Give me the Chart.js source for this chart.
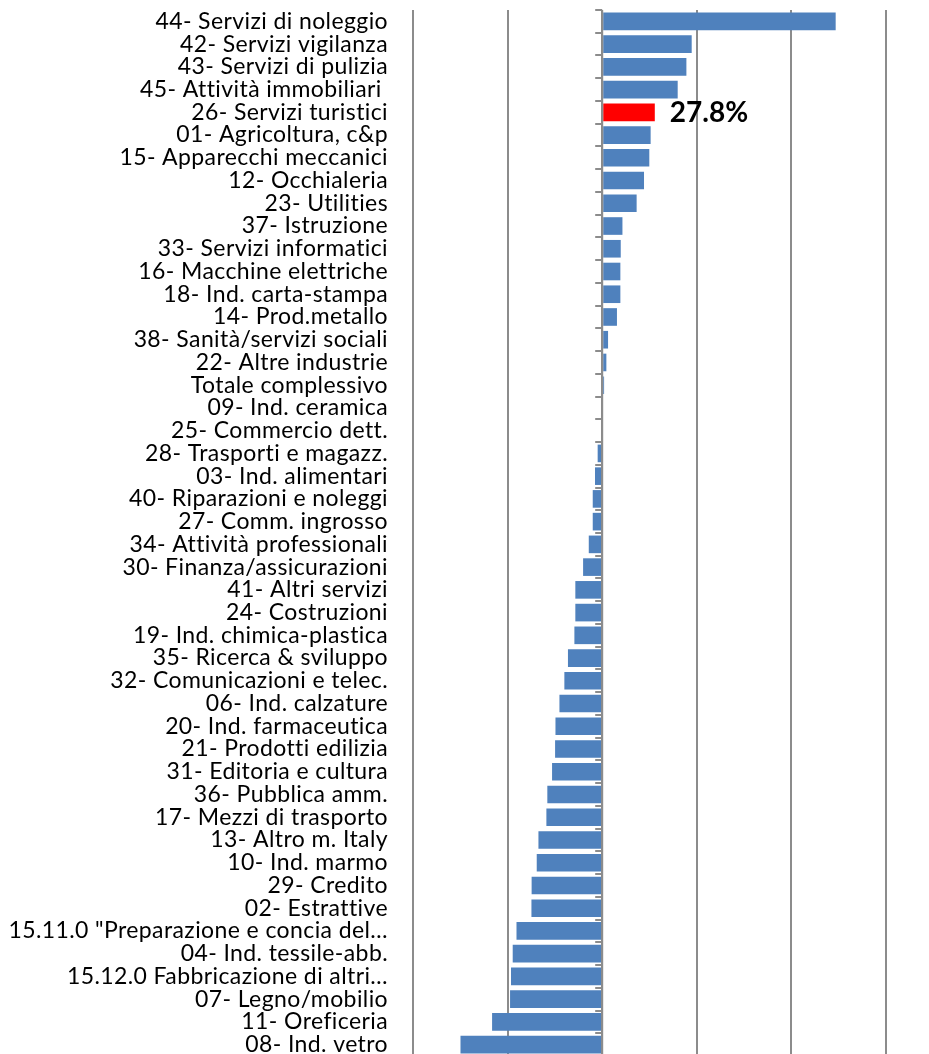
<!DOCTYPE html>
<html>
<head>
<meta charset="utf-8">
<script src="https://cdn.jsdelivr.net/npm/chart.js@4"></script>
<style>
  html, body { margin: 0; padding: 0; background: #fff; overflow: hidden; }
  #wrap { position: relative; width: 929px; height: 1058px; }
</style>
</head>
<body>
<div id="wrap"><canvas id="barChart"></canvas></div>
<script>
const ctx = document.getElementById("barChart").getContext("2d");

const sectors = [
  "44- Servizi di noleggio",
  "42- Servizi vigilanza",
  "43- Servizi di pulizia",
  "45- Attività immobiliari ",
  "26- Servizi turistici",
  "01- Agricoltura, c&p",
  "15- Apparecchi meccanici",
  "12- Occhialeria",
  "23- Utilities",
  "37- Istruzione",
  "33- Servizi informatici",
  "16- Macchine elettriche",
  "18- Ind. carta-stampa",
  "14- Prod.metallo",
  "38- Sanità/servizi sociali",
  "22- Altre industrie",
  "Totale complessivo",
  "09- Ind. ceramica",
  "25- Commercio dett.",
  "28- Trasporti e magazz.",
  "03- Ind. alimentari",
  "40- Riparazioni e noleggi",
  "27- Comm. ingrosso",
  "34- Attività professionali",
  "30- Finanza/assicurazioni",
  "41- Altri servizi",
  "24- Costruzioni",
  "19- Ind. chimica-plastica",
  "35- Ricerca & sviluppo",
  "32- Comunicazioni e telec.",
  "06- Ind. calzature",
  "20- Ind. farmaceutica",
  "21- Prodotti edilizia",
  "31- Editoria e cultura",
  "36- Pubblica amm.",
  "17- Mezzi di trasporto",
  "13- Altro m. Italy",
  "10- Ind. marmo",
  "29- Credito",
  "02- Estrattive",
  "15.11.0 \"Preparazione e concia del…",
  "04- Ind. tessile-abb.",
  "15.12.0 Fabbricazione di altri…",
  "07- Legno/mobilio",
  "11- Oreficeria",
  "08- Ind. vetro",
];

// variazione %
const changes = [
  123.4, 47.3, 44.5, 39.9, 27.8, 25.6, 24.9, 22.1, 18.2, 10.7,
  9.8, 9.6, 9.6, 7.8, 3.1, 2.2, 1.0, 0, 0, -2.4,
  -3.8, -5.0, -5.0, -7.1, -10.1, -14.2, -14.2, -14.7, -18.1, -20.0,
  -22.6, -24.7, -24.9, -26.5, -29.0, -29.5, -33.7, -34.6, -37.3, -37.4,
  -45.3, -47.3, -48.2, -48.7, -58.2, -74.9,
];

const highlightIndex = 4; // 26- Servizi turistici

const BAR_BLUE = "#4f81bd";
const BAR_RED = "#ff0000";
const GRID_GRAY = "#8c8c8c";
const FONT = "Lato, 'Liberation Sans', sans-serif";

const barColors = changes.map((v, i) => (i === highlightIndex ? BAR_RED : BAR_BLUE));

// a bit of tracking, closer to the original Calibri labels (also drops ligatures)
const textSpacing = {
  id: "textSpacing",
  beforeDraw(chart) {
    chart.ctx.letterSpacing = "0.4px";
  },
};

// small tick marks on the zero axis, between categories
const zeroAxisTicks = {
  id: "zeroAxisTicks",
  afterDatasetsDraw(chart) {
    const { ctx, scales: { x, y } } = chart;
    const x0 = x.getPixelForValue(0);
    const band = (y.bottom - y.top) / sectors.length;
    ctx.save();
    ctx.strokeStyle = GRID_GRAY;
    ctx.lineWidth = 2;
    ctx.beginPath();
    ctx.moveTo(x0, y.top);
    ctx.lineTo(x0, y.bottom);
    for (let i = 0; i <= sectors.length; i++) {
      const yy = Math.round(y.top + i * band);
      ctx.moveTo(x0 - 7, yy);
      ctx.lineTo(x0, yy);
    }
    ctx.stroke();
    ctx.restore();
  },
};

// value label for the highlighted bar
const highlightLabel = {
  id: "highlightLabel",
  afterDatasetsDraw(chart) {
    const bar = chart.getDatasetMeta(0).data[highlightIndex];
    const { ctx } = chart;
    ctx.save();
    ctx.letterSpacing = "0px";
    ctx.font = "bold 28px " + FONT;
    ctx.fillStyle = "#000";
    ctx.textAlign = "left";
    ctx.textBaseline = "middle";
    ctx.fillText(changes[highlightIndex].toFixed(1) + "%", bar.x + 15, bar.y + 1);
    ctx.restore();
  },
};

const config = {
  type: "bar",
  data: {
    labels: sectors,
    datasets: [
      {
        data: changes,
        backgroundColor: barColors,
        borderWidth: 0,
        categoryPercentage: 1,
        barPercentage: 0.775,
      },
    ],
  },
  options: {
    indexAxis: "y",
    responsive: true,
    maintainAspectRatio: false,
    animation: false,
    layout: { padding: { top: 10, right: 43, bottom: 2, left: 0 } },
    plugins: {
      legend: { display: false },
      tooltip: { enabled: false },
    },
    scales: {
      x: {
        min: -100,
        max: 150,
        ticks: { display: false, stepSize: 50 },
        grid: { color: GRID_GRAY, lineWidth: 2, drawTicks: false },
        border: { display: false },
        afterFit(scale) { scale.height = 0; },
      },
      y: {
        ticks: {
          autoSkip: false,
          padding: 25,
          color: "#000",
          font: { family: FONT, size: 23 },
        },
        grid: { display: false, drawTicks: false },
        border: { display: false },
        afterFit(scale) {
          scale.width = 413;
          scale.paddingTop = 0;
          scale.paddingBottom = 0;
        },
      },
    },
  },
  plugins: [textSpacing, zeroAxisTicks, highlightLabel],
};

new Chart(ctx, config);
</script>
</body>
</html>
